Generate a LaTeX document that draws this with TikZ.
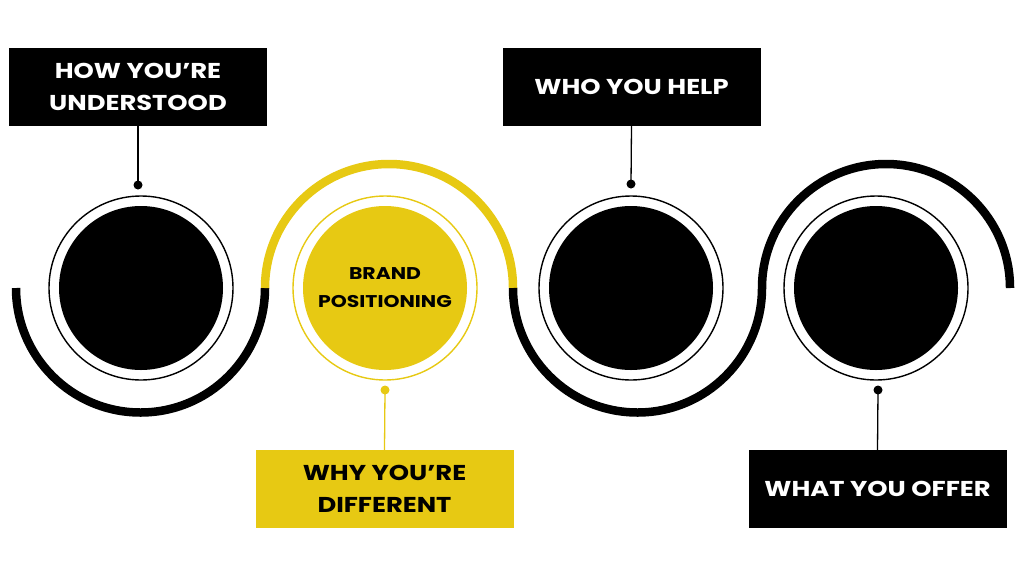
\documentclass[tikz,border=0pt]{standalone}
\usepackage{fontspec}
\setsansfont{Poppins}
\renewcommand{\familydefault}{\sfdefault}
\definecolor{brandyellow}{HTML}{E7C913}
\newcommand{\boxfont}{\fontsize{21.5}{32}\selectfont\bfseries\addfontfeature{FakeStretch=1.2}}
\newcommand{\brandfont}{\fontsize{17}{28}\selectfont\bfseries\addfontfeature{FakeStretch=1.2}}
\begin{document}
\begin{tikzpicture}[x=1pt,y=-1pt,
  labelbox/.style={rectangle, fill=black, text=white, minimum width=258pt, minimum height=78pt, align=center, inner sep=0pt, font=\boxfont},
  ybox/.style={labelbox, fill=brandyellow, text=black},
  ring/.style={circle, draw=black, line width=1.4pt, minimum size=184pt, inner sep=0pt},
  disc/.style={circle, fill=black, minimum size=164pt, inner sep=0pt},
  dotmark/.style={circle, fill=black, minimum size=9pt, inner sep=0pt},
  wave/.style={line width=8.5pt, line cap=butt},
  stem/.style={line width=1.3pt}
]
\useasboundingbox (0,0) rectangle (1024,576);

% waves
\draw[wave, black] (16,288) arc[start angle=180, end angle=0, radius=124.5];
\draw[wave, brandyellow] (265,288) arc[start angle=180, end angle=360, radius=124];
\draw[wave, black] (513,288) arc[start angle=180, end angle=0, radius=124.5];
\draw[wave, black] (762,288) arc[start angle=180, end angle=360, radius=124];

% circles
\node[ring] (r1) at (141,288) {};
\node[disc] (c1) at (141,288) {};
\node[ring, draw=brandyellow] (r2) at (385,288) {};
\node[disc, fill=brandyellow, align=center, font=\brandfont] (c2) at (385,288) {BRAND\\POSITIONING};
\node[ring] (r3) at (631,288) {};
\node[disc] (c3) at (631,288) {};
\node[ring] (r4) at (876,288) {};
\node[disc] (c4) at (876,288) {};

% label boxes
\node[labelbox] (b1) at (138,86.5) {HOW YOU’RE\\UNDERSTOOD};
\node[labelbox] (b2) at (631.5,86.5) {WHO YOU HELP};
\node[ybox] (b3) at (384.5,489) {WHY YOU’RE\\DIFFERENT};
\node[labelbox] (b4) at (877.5,489) {WHAT YOU OFFER};

% dots and stems
\node[dotmark] (d1) at (138,185) {};
\node[dotmark] (d2) at (631,184) {};
\node[dotmark, fill=brandyellow] (d3) at (385,390) {};
\node[dotmark] (d4) at (878,390) {};
\draw[stem] (b1.south) -- (d1.center);
\draw[stem] (b2.south) -- (d2.center);
\draw[stem, brandyellow] (d3.center) -- (b3.north);
\draw[stem] (d4.center) -- (b4.north);
\end{tikzpicture}
\end{document}
